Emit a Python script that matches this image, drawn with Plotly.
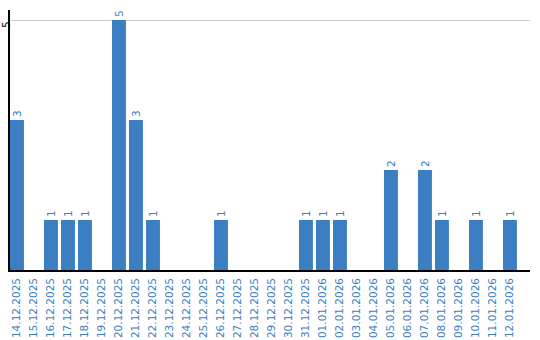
import plotly.graph_objects as go

dates = ["14.12.2025", "15.12.2025", "16.12.2025", "17.12.2025", "18.12.2025",
         "19.12.2025", "20.12.2025", "21.12.2025", "22.12.2025", "23.12.2025",
         "24.12.2025", "25.12.2025", "26.12.2025", "27.12.2025", "28.12.2025",
         "29.12.2025", "30.12.2025", "31.12.2025", "01.01.2026", "02.01.2026",
         "03.01.2026", "04.01.2026", "05.01.2026", "06.01.2026", "07.01.2026",
         "08.01.2026", "09.01.2026", "10.01.2026", "11.01.2026", "12.01.2026"]
counts = [3, 0, 1, 1, 1, 0, 5, 3, 1, 0, 0, 0, 1, 0, 0, 0, 0, 1, 1, 1,
          0, 0, 2, 0, 2, 1, 0, 1, 0, 1]
y_ticks = [5]

blue = "#3b7ec2"
labels = [str(v) if v > 0 else "" for v in counts]

fig = go.Figure(go.Bar(
    x=list(range(len(dates))), y=counts,
    marker=dict(color=blue, line=dict(width=0)),
    text=labels, textposition="outside", textangle=-90,
    textfont=dict(family="DejaVu Sans", size=10.5, color=blue),
    cliponaxis=False,
))

fig.update_layout(
    width=540, height=340,
    margin=dict(l=10, r=10, t=10, b=70),
    paper_bgcolor="white", plot_bgcolor="white",
    bargap=0.18, showlegend=False,
    xaxis=dict(
        range=[-0.41, 30.18], automargin=False,
        tickmode="array", tickvals=list(range(len(dates))), ticktext=dates,
        tickangle=-90, tickfont=dict(family="DejaVu Sans", size=10.5, color=blue),
        showline=True, linecolor="black", linewidth=1.5,
        showgrid=False, ticks="", zeroline=False, ticklabelstandoff=2,
    ),
    yaxis=dict(
        range=[0, 5.2], automargin=False,
        tickmode="array", tickvals=y_ticks, ticktext=[str(t) for t in y_ticks],
        tickangle=-90, tickfont=dict(family="DejaVu Sans", size=10, color="black"),
        showline=True, linecolor="black", linewidth=1.5,
        showgrid=True, gridcolor="#cccccc", gridwidth=1,
        ticks="", zeroline=False, ticklabelstandoff=-6, ticklabelshift=6,
    ),
)

fig.write_html("out.html")
